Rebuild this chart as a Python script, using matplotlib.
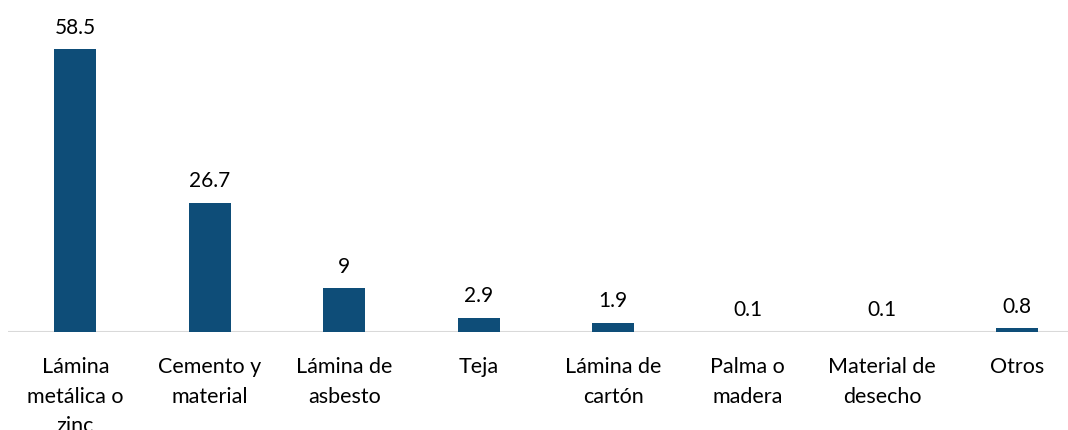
import matplotlib
matplotlib.use("Agg")
import matplotlib.pyplot as plt

categories = ["Lámina\nmetálica o\nzinc", "Cemento y\nmaterial", "Lámina de\nasbesto", "Teja",
              "Lámina de\ncartón", "Palma o\nmadera", "Material de\ndesecho", "Otros"]
values = [58.5, 26.7, 9, 2.9, 1.9, 0.1, 0.1, 0.8]
value_labels = ["58.5", "26.7", "9", "2.9", "1.9", "0.1", "0.1", "0.8"]

plt.rcParams['font.family'] = ['Lato', 'DejaVu Sans']

fig = plt.figure(figsize=(10.68, 4.31), dpi=100)
ax = fig.add_axes([8/1068, 98/431, 1 - 8/1068, 333/431])
x = list(range(len(values)))
ax.bar(x, values, width=0.31, color="#0e4d78", zorder=2)
ax.set_xlim(-0.5, (1068 - 76) / 134.4)
ax.set_ylim(0, 58.5 * 333 / 283)
for s in ax.spines.values():
    s.set_visible(False)
ax.axhline(0, color="#d9d9d9", lw=1.5, zorder=1)
ax.set_yticks([])
ax.set_xticks([])
for xi, v, lab in zip(x, values, value_labels):
    ax.annotate(lab, (xi, v), xytext=(0, 9), textcoords="offset points",
                ha="center", va="bottom", fontsize=15, color="#000000")
for xi, c in zip(x, categories):
    ax.annotate(c, (xi, 0), xytext=(0, -17), textcoords="offset points",
                ha="center", va="top", fontsize=15.5, color="#000000", linespacing=1.62,
                annotation_clip=False)
fig.savefig("out.png", dpi=100)
